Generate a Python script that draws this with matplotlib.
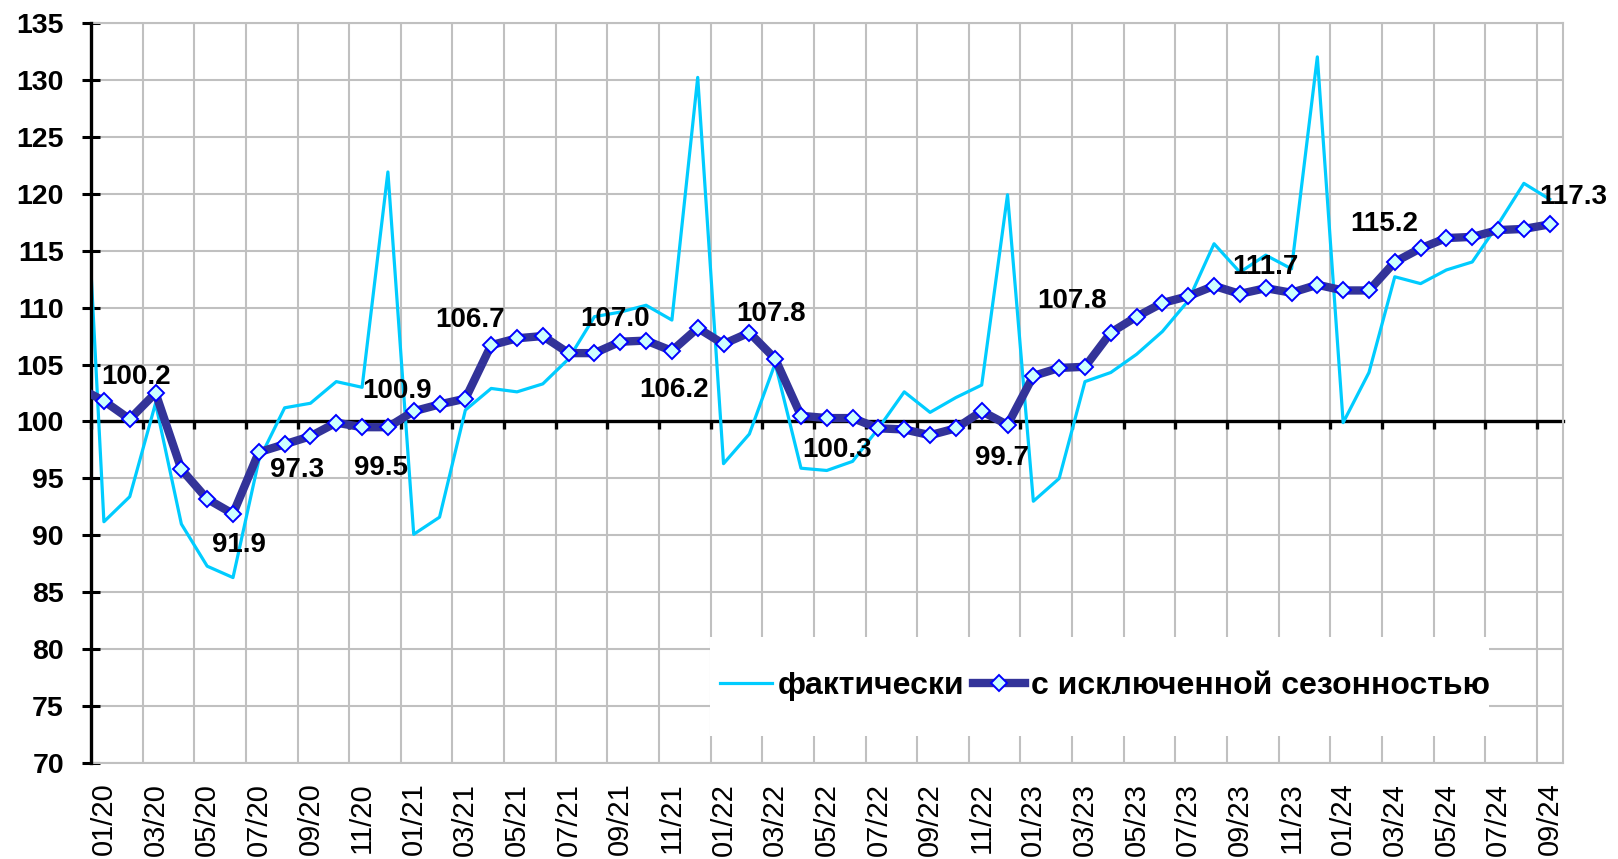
import numpy as np
import matplotlib
matplotlib.use("Agg")
import matplotlib.pyplot as plt
from matplotlib.patches import Rectangle

plt.rcParams["font.family"] = ["Liberation Sans", "DejaVu Sans"]

# monthly index, 01/2020 .. 09/2024 (Dec 2019 value only feeds the clipped first segment)
fact_prev = 135.2
sa_prev = 103.0

fact = [91.2, 93.4, 101.6, 91.0, 87.3, 86.3, 96.6, 101.2, 101.6, 103.5, 103.0, 121.9,
        90.1, 91.6, 101.0, 102.9, 102.6, 103.3, 105.5, 109.2, 109.6, 110.2, 108.9, 130.2,
        96.3, 98.9, 105.1, 95.9, 95.7, 96.5, 99.4, 102.6, 100.8, 102.1, 103.2, 119.9,
        93.0, 95.0, 103.5, 104.3, 105.9, 107.9, 110.6, 115.6, 113.1, 114.6, 113.4, 132.0,
        99.9, 104.3, 112.7, 112.1, 113.3, 114.0, 117.3, 120.9, 119.5]

sa = [101.8, 100.2, 102.5, 95.8, 93.2, 91.9, 97.3, 98.0, 98.7, 99.9, 99.5, 99.5,
      100.9, 101.5, 102.0, 106.7, 107.3, 107.5, 106.0, 106.0, 107.0, 107.1, 106.2, 108.2,
      106.8, 107.8, 105.5, 100.5, 100.3, 100.3, 99.4, 99.3, 98.8, 99.4, 100.9, 99.7,
      104.0, 104.7, 104.8, 107.8, 109.2, 110.4, 111.0, 111.9, 111.2, 111.7, 111.3, 112.0,
      111.5, 111.5, 114.0, 115.2, 116.1, 116.2, 116.8, 116.9, 117.3]

tick_labels = ["01/20", "03/20", "05/20", "07/20", "09/20", "11/20",
               "01/21", "03/21", "05/21", "07/21", "09/21", "11/21",
               "01/22", "03/22", "05/22", "07/22", "09/22", "11/22",
               "01/23", "03/23", "05/23", "07/23", "09/23", "11/23",
               "01/24", "03/24", "05/24", "07/24", "09/24"]

# which points carry a value label
label_idx = [1, 5, 6, 11, 12, 15, 20, 22, 25, 28, 35, 39, 45, 51, 56]

# label placement (pixel offsets from the point)
label_offsets = [(6, 45), (6, -28), (38, -15), (-7, -38), (-17, 23), (-21, 28),
                 (-5, 26), (2, -36), (22, 22), (10, -29), (-6, -30), (-39, 35),
                 (0, 24), (-36, 27), (24, 30)]

n = len(sa)
x = np.arange(-1, n)
fact_all = [fact_prev] + fact
sa_all = [sa_prev] + sa

W, H, DPI = 1618, 859, 100
fig = plt.figure(figsize=(W / DPI, H / DPI), dpi=DPI)
ax = fig.add_axes([91 / W, 1 - 763.3 / H, (1562.6 - 91) / W, (763.3 - 22.7) / H])

grid_c = "#C0C0C0"
ax.set_xlim(-0.5, n - 0.5)
ax.set_ylim(70, 135)
ax.set_axisbelow(True)

ax.set_yticks(np.arange(70, 136, 5))
ax.yaxis.grid(True, color=grid_c, lw=1.5)
ax.set_xticks(np.arange(0, n, 2))
ax.set_xticklabels(tick_labels)
ax.set_xticks(np.arange(-0.5, n, 2), minor=True)
ax.xaxis.grid(True, which="minor", color=grid_c, lw=1.5)
ax.tick_params(axis="x", which="both", length=0, pad=14, labelsize=21,
               labelrotation=90)
ax.tick_params(axis="y", direction="inout", length=13, width=2.2, pad=13,
               labelsize=20.5)
for t in ax.get_yticklabels():
    t.set_fontweight("bold")

for s in ["top", "right", "bottom"]:
    ax.spines[s].set_color(grid_c)
    ax.spines[s].set_linewidth(1.5)
ax.spines["left"].set_linewidth(2.4)
ax.spines["left"].set_zorder(3)

# horizontal axis crossing at 100
sec = ax.secondary_xaxis((100 - 70) / 65)
sec.set_xticks(np.arange(-0.5, n, 2))
sec.tick_params(axis="x", direction="out", length=6, width=2.4, labelbottom=False,
                labeltop=False)
sec.spines["bottom"].set_linewidth(2.4)
sec.set_zorder(1.8)

# white box behind the legend
ax.add_patch(Rectangle((710 / W, 1 - 736 / H), 779 / W, 99 / H,
                       transform=fig.transFigure, facecolor="white",
                       edgecolor="none", zorder=1))

ax.plot(x, fact_all, color="#00CCFF", lw=2.3, zorder=3, label="фактически")
ax.plot(x, sa_all, color="#333399", lw=6, marker="D", ms=8.5,
        mfc="#CCFFFF", mec="#0000FF", mew=1.4, zorder=4,
        label="с исключенной сезонностью")

for i, (dx, dy) in zip(label_idx, label_offsets):
    ax.annotate(f"{sa[i]:.1f}", xy=(i, sa[i]), xytext=(dx, dy),
                textcoords="offset pixels", ha="center", va="center_baseline",
                fontsize=20, fontweight="bold", zorder=6)

ax.legend(loc="center left", bbox_to_anchor=(720 / W, 1 - 686 / H),
          bbox_transform=fig.transFigure, ncol=2, frameon=False, borderpad=0,
          borderaxespad=0, handlelength=1.63, handletextpad=0.19,
          columnspacing=0.25, prop={"size": 23, "weight": "bold"})

fig.savefig("out.png", dpi=DPI)
